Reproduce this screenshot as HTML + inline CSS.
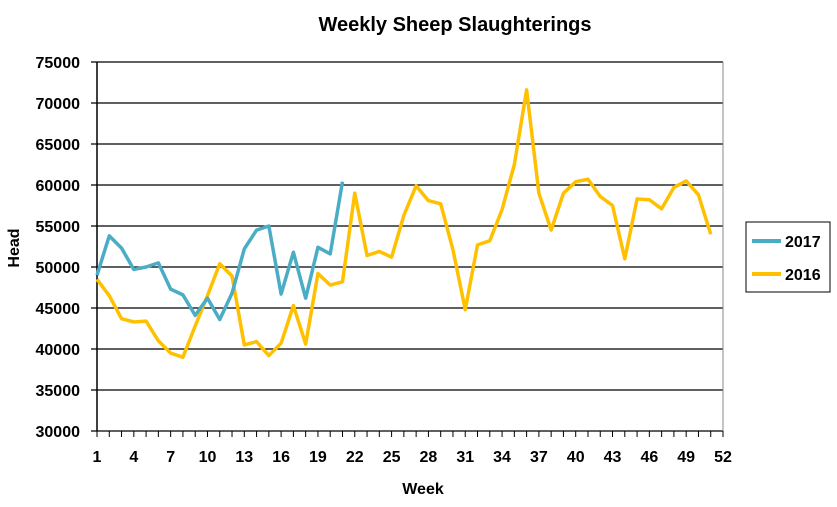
<!DOCTYPE html>
<html><head><meta charset="utf-8"><style>
body{margin:0;background:#fff;}
svg text{font-family:"Liberation Sans",sans-serif;font-weight:bold;fill:#000;}
</style></head><body>
<svg width="837" height="502">
<text x="455" y="31" font-size="20" text-anchor="middle">Weekly Sheep Slaughterings</text>
<g id="grid"></g><g id="series"></g>
<text x="423" y="494" font-size="16" text-anchor="middle">Week</text>
<text transform="translate(19,248) rotate(-90)" font-size="16" text-anchor="middle">Head</text>
<g>
<rect x="746" y="222" width="84" height="70" fill="#fff" stroke="#000" stroke-width="1"/>
<line x1="752" y1="241" x2="781" y2="241" stroke="#4BACC6" stroke-width="4"/>
<text x="785" y="247" font-size="16">2017</text>
<line x1="752" y1="274" x2="781" y2="274" stroke="#FFC000" stroke-width="4"/>
<text x="785" y="280" font-size="16">2016</text>
</g>
</svg>
<script>
const yTicks=[30000,35000,40000,45000,50000,55000,60000,65000,70000,75000];
const xTicks=[1,4,7,10,13,16,19,22,25,28,31,34,37,40,43,46,49,52];
const s2017=[49000,53800,52300,49700,50000,50500,47300,46600,44100,46200,43600,46800,52200,54500,55000,46700,51800,46200,52400,51600,60400];
const s2016=[48500,46500,43700,43300,43400,41000,39500,39000,42800,46500,50400,48900,40500,40900,39200,40700,45300,40600,49200,47800,48200,59000,51400,51900,51200,56300,59900,58100,57700,52100,44800,52700,53200,57000,62500,71600,59000,54500,59000,60400,60700,58600,57500,51000,58300,58200,57100,59700,60500,58800,54000];
const X=w=>97+(w-1)*(723-97)/51;
const Y=v=>431-(v-30000)*(431-62)/45000;
const NS="http://www.w3.org/2000/svg";
const grid=document.getElementById('grid'),ser=document.getElementById('series');
function mk(tag,attrs,parent){const e=document.createElementNS(NS,tag);for(const k in attrs)e.setAttribute(k,attrs[k]);parent.appendChild(e);return e;}
yTicks.forEach(v=>{
 const l=mk('line',{x1:91,x2:723,y1:Y(v),y2:Y(v),stroke:'#000','stroke-width':1.2},grid);
 
 
 const t=mk('text',{x:80,y:Y(v)+6,'font-size':16,'text-anchor':'end'},grid);t.textContent=v;
 
 
});
mk('line',{x1:97,x2:97,y1:62,y2:431,stroke:'#000','stroke-width':1.5},grid);
mk('line',{x1:723,x2:723,y1:62,y2:431,stroke:'#888','stroke-width':1},grid);
for(let w=1;w<=52;w++){mk('line',{x1:X(w),x2:X(w),y1:431,y2:437,stroke:'#000'},grid);}
xTicks.forEach(w=>{const t=mk('text',{x:X(w),y:462,'font-size':16,'text-anchor':'middle'},grid);t.textContent=w;
 
 });
function line(d,c,name){const p=mk('polyline',{points:d.map((v,i)=>X(i+1)+','+Y(v)).join(' '),fill:'none',stroke:c,'stroke-width':3.5,'stroke-linejoin':'round'},ser);
 
 }
line(s2016,'#FFC000','series-2016');
line(s2017,'#4BACC6','series-2017');
</script>
</body></html>
